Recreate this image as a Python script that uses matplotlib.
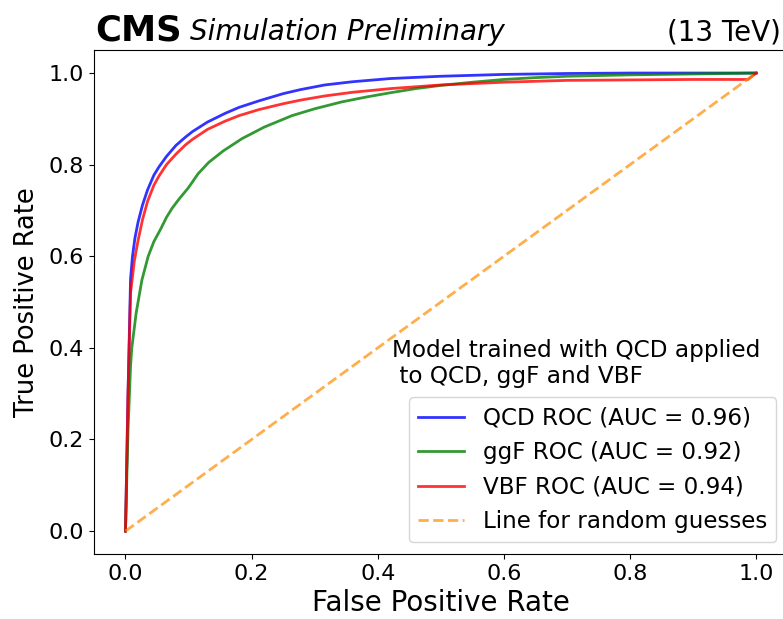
import matplotlib
matplotlib.use("Agg")
import matplotlib.pyplot as plt

# ROC points (false positive rate, true positive rate) per sample
qcd_fpr = [0, 0.004, 0.008, 0.011, 0.015, 0.02, 0.027, 0.035, 0.045, 0.053, 0.065, 0.08,
           0.095, 0.106, 0.13, 0.158, 0.18, 0.211, 0.25, 0.278, 0.316, 0.36, 0.42, 0.5,
           0.6, 0.7, 0.8, 1.0]
qcd_tpr = [0, 0.30, 0.55, 0.599, 0.64, 0.675, 0.712, 0.745, 0.777, 0.795, 0.818, 0.842,
           0.86, 0.872, 0.893, 0.912, 0.925, 0.939, 0.955, 0.964, 0.974, 0.981, 0.988,
           0.993, 0.997, 0.999, 1.0, 1.0]

ggf_fpr = [0, 0.004, 0.008, 0.01, 0.017, 0.026, 0.036, 0.045, 0.056, 0.065, 0.074, 0.085,
           0.10, 0.115, 0.132, 0.155, 0.185, 0.22, 0.264, 0.3, 0.343, 0.383, 0.42, 0.46,
           0.5, 0.55, 0.6, 0.65, 0.7, 0.8, 0.9, 1.0]
ggf_tpr = [0, 0.22, 0.36, 0.40, 0.477, 0.548, 0.60, 0.632, 0.66, 0.685, 0.705, 0.725,
           0.75, 0.78, 0.805, 0.83, 0.857, 0.882, 0.907, 0.922, 0.937, 0.948, 0.957, 0.966,
           0.973, 0.980, 0.986, 0.990, 0.993, 0.996, 0.998, 1.0]

vbf_fpr = [0, 0.004, 0.008, 0.014, 0.02, 0.027, 0.035, 0.045, 0.053, 0.065, 0.08, 0.095,
           0.106, 0.13, 0.158, 0.18, 0.211, 0.25, 0.278, 0.316, 0.36, 0.42, 0.5, 0.6,
           0.7, 0.8, 0.9, 0.987, 1.0]
vbf_tpr = [0, 0.30, 0.52, 0.59, 0.635, 0.68, 0.72, 0.755, 0.775, 0.80, 0.823, 0.843,
           0.855, 0.877, 0.895, 0.907, 0.92, 0.933, 0.941, 0.95, 0.958, 0.966, 0.974, 0.980,
           0.984, 0.985, 0.986, 0.986, 1.0]

auc = {"QCD": 0.96, "ggF": 0.92, "VBF": 0.94}

fig = plt.figure(figsize=(7.83, 6.19), dpi=100)
ax = fig.add_axes([0.120, 0.105, 0.886, 0.814])

ax.plot(qcd_fpr, qcd_tpr, color="blue", alpha=0.8, lw=2,
        label=f"QCD ROC (AUC = {auc['QCD']:.2f})")
ax.plot(ggf_fpr, ggf_tpr, color="green", alpha=0.8, lw=2,
        label=f"ggF ROC (AUC = {auc['ggF']:.2f})")
ax.plot(vbf_fpr, vbf_tpr, color="red", alpha=0.8, lw=2,
        label=f"VBF ROC (AUC = {auc['VBF']:.2f})")
ax.plot([0, 1], [0, 1], color="darkorange", alpha=0.7, lw=2, ls="--",
        label="Line for random guesses")

ax.set_xlim(-0.05, 1.05)
ax.set_ylim(-0.05, 1.05)
ax.set_xticks([0, 0.2, 0.4, 0.6, 0.8, 1.0])
ax.set_yticks([0, 0.2, 0.4, 0.6, 0.8, 1.0])
ax.tick_params(labelsize=16)
ax.set_xlabel("False Positive Rate", fontsize=20)
ax.set_ylabel("True Positive Rate", fontsize=18.5, labelpad=6)

ax.legend(loc="lower right", fontsize=16.6, handlelength=2.0)
ax.text(0.422, 0.312, "Model trained with QCD applied\n to QCD, ggF and VBF",
        fontsize=16.7, ha="left", va="bottom")

ax.text(0.002, 1.02, "CMS", transform=ax.transAxes, fontsize=25.5,
        fontweight="bold", ha="left", va="baseline")
ax.text(0.138, 1.02, "Simulation Preliminary", transform=ax.transAxes,
        fontsize=20, style="italic", ha="left", va="baseline")
ax.text(0.99, 1.02, "(13 TeV)", transform=ax.transAxes, fontsize=20,
        ha="right", va="baseline")

fig.savefig("out.png", dpi=100)
